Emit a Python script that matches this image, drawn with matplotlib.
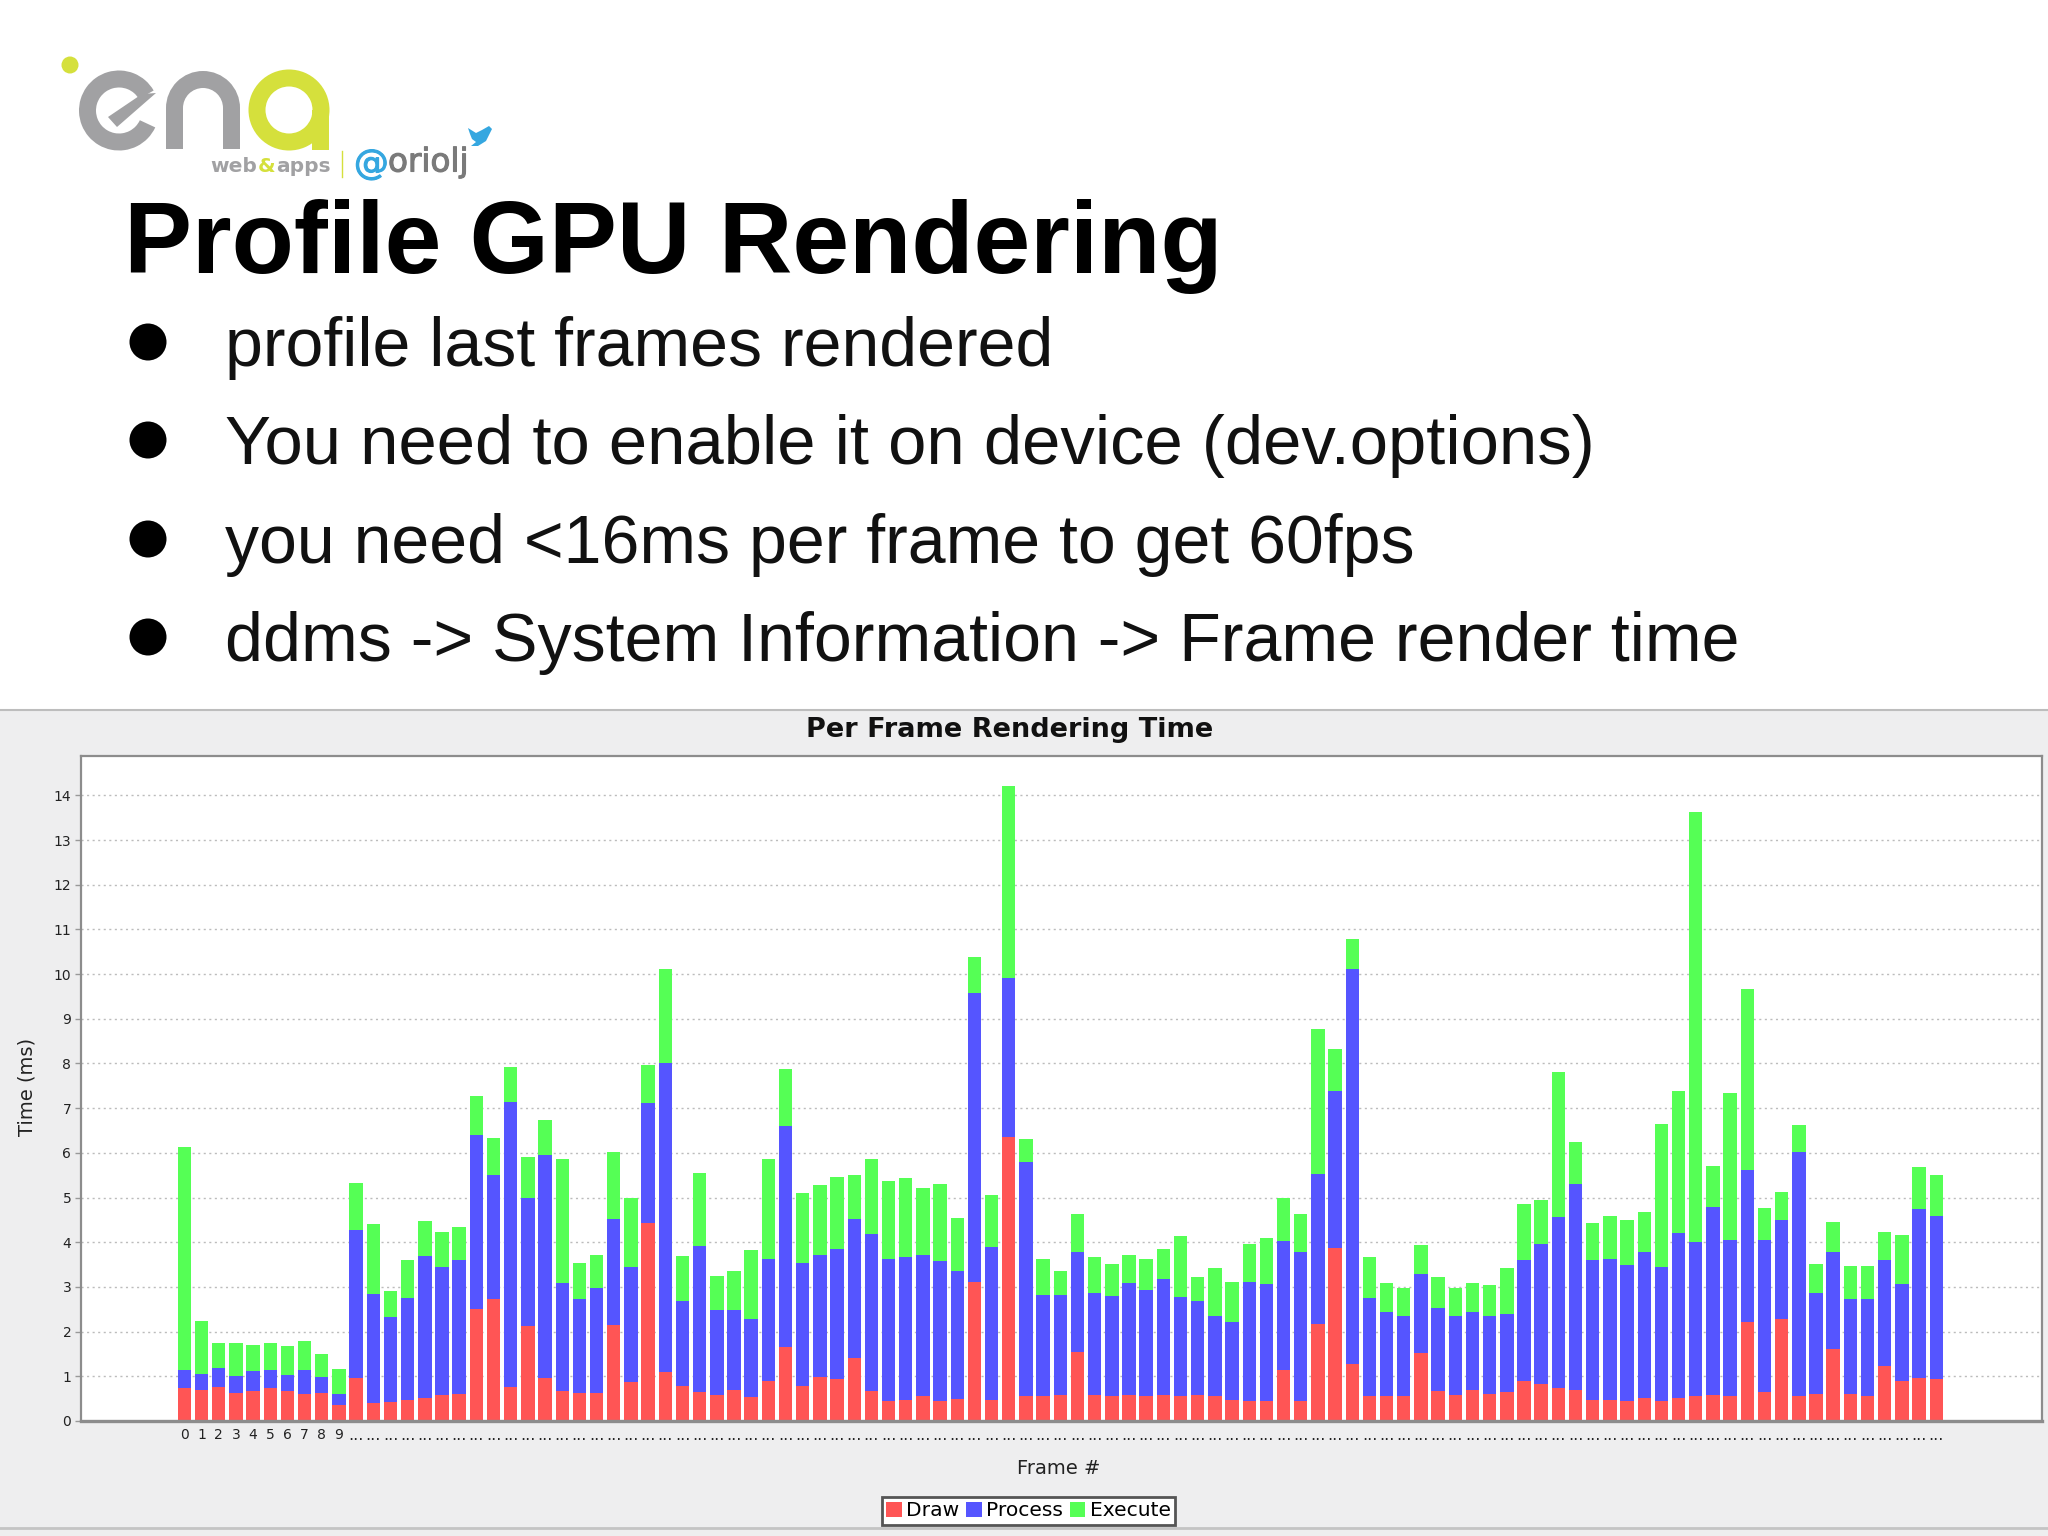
import matplotlib
matplotlib.use("Agg")
import matplotlib.pyplot as plt
import matplotlib.patheffects as pe
from matplotlib.patches import Wedge, Rectangle, Circle, Polygon, Patch

draw = [.73,.70,.76,.63,.68,.73,.68,.61,.63,.35,.96,.41,.43,.47,.52,.58,.61,2.51,2.73,.76,
        2.13,.96,.68,.63,.63,2.15,.88,4.44,1.09,.78,.64,.59,.69,.54,.89,1.65,.78,.98,.93,1.40,
        .67,.45,.48,.55,.45,.49,3.10,.48,6.35,.57,.57,.59,1.54,.59,.57,.59,.57,.59,.57,.59,
        .57,.48,.45,.45,1.13,.45,2.17,3.87,1.28,.57,.57,.57,1.52,.67,.58,.70,.60,.64,.89,.83,
        .73,.70,.48,.46,.45,.51,.45,.51,.55,.58,.55,2.22,.64,2.29,.57,.61,1.61,.60,.55,1.24,
        .89,.97,.95]
process = [.42,.36,.42,.38,.43,.42,.36,.54,.35,.26,3.32,2.43,1.90,2.28,3.17,2.87,3.00,3.88,2.77,6.38,
           2.86,4.99,2.40,2.10,2.35,2.37,2.57,2.68,6.91,1.90,3.27,1.90,1.80,1.75,2.74,4.96,2.75,2.74,2.91,3.11,
           3.51,3.17,3.20,3.17,3.14,2.86,6.47,3.42,3.57,5.23,2.26,2.24,2.25,2.27,2.23,2.50,2.37,2.58,2.20,2.10,
           1.77,1.73,2.67,2.61,2.90,3.34,3.35,3.51,8.84,2.19,1.86,1.77,1.77,1.85,1.76,1.73,1.74,1.76,2.71,3.13,
           3.83,4.61,3.12,3.16,3.05,3.28,3.00,3.70,3.45,4.21,3.50,3.40,3.41,2.20,5.44,2.25,2.18,2.14,2.17,2.36,
           2.17,3.77,3.63]
execute = [4.97,1.18,.56,.73,.59,.59,.64,.64,.51,.55,1.04,1.57,.58,.86,.79,.77,.72,.88,.83,.79,
           .91,.78,2.78,.81,.74,1.49,1.54,.85,2.11,1.01,1.65,.76,.86,1.53,2.24,1.27,1.57,1.56,1.63,.99,
           1.69,1.74,1.76,1.50,1.72,1.20,.81,1.16,4.29,.52,.79,.53,.84,.80,.71,.63,.68,.67,1.38,.54,
           1.08,.90,.85,1.03,.95,.84,3.26,.94,.66,.90,.65,.64,.65,.71,.63,.65,.71,1.02,1.26,.98,
           3.26,.93,.83,.96,.99,.89,3.20,3.17,9.63,.92,3.28,4.04,.72,.64,.61,.65,.67,.72,.74,.64,
           1.10,.95,.92]
series_names = ["Draw", "Process", "Execute"]
frame_labels = [str(i) if i < 10 else "..." for i in range(len(draw))]
y_ticks = list(range(15))
bullets = ["profile last frames rendered",
           "You need to enable it on device (dev.options)",
           "you need <16ms per frame to get 60fps",
           "ddms -> System Information -> Frame render time"]

W, H = 2048, 1536
fig = plt.figure(figsize=(W / 100, H / 100), dpi=100, facecolor="white")

# full-figure layer in pixel units for the slide itself
bg = fig.add_axes([0, 0, 1, 1], zorder=0)
bg.set_xlim(0, W)
bg.set_ylim(H, 0)
bg.axis("off")

PANEL = "#eeeeef"
bg.add_patch(Rectangle((0, 710), W, H - 710, fc=PANEL, ec="none"))
bg.plot([0, W], [710, 710], color="#bdbdbd", lw=1.5)
bg.plot([0, W], [1528, 1528], color="#c4c4c4", lw=2)

# logo
GREY, LIME, SKY = "#a1a1a3", "#d5e03c", "#35a7e0"
bg.add_patch(Circle((70, 65), 8.5, fc=LIME, ec="none"))
bg.add_patch(Wedge((119, 110.5), 40, 25, 330, width=17, fc=GREY, ec="none"))
bg.add_patch(Polygon([(108, 117), (142, 94), (156, 93), (117, 127)], fc=GREY, ec="none"))
bg.add_patch(Wedge((203, 108), 37, 180, 360, width=17, fc=GREY, ec="none"))
bg.add_patch(Rectangle((166, 108), 17, 41, fc=GREY, ec="none"))
bg.add_patch(Rectangle((223, 108), 17, 41, fc=GREY, ec="none"))
bg.add_patch(Wedge((289, 110), 40.5, 0, 360, width=17, fc=LIME, ec="none"))
bg.add_patch(Rectangle((312, 110), 17, 40, fc=LIME, ec="none"))
bg.plot([342, 342], [151, 177], color=LIME, lw=1)
bg.text(210, 167, "web", fontsize=14.5, fontweight="bold", color=GREY, va="center")
bg.text(258, 167, "&", fontsize=14.5, fontweight="bold", color=LIME, va="center")
bg.text(276, 167, "apps", fontsize=14.5, fontweight="bold", color=GREY, va="center")
bg.text(354, 164, "@", fontsize=25, color=SKY, va="center",
        path_effects=[pe.withStroke(linewidth=0.8, foreground=SKY)])
bg.text(388, 162, "oriolj", fontsize=23.5, color="#7a7a7a", va="center",
        path_effects=[pe.withStroke(linewidth=0.8, foreground="#7a7a7a")])
bg.add_patch(Polygon([(468, 128), (476, 133), (482, 130), (489, 126), (492, 129), (490, 133),
                      (486, 141), (478, 146), (471, 146), (476, 142), (472, 139), (470, 134)],
                     fc=SKY, ec="none"))

# slide text
SLIDE_FONT = "Liberation Sans"
bg.text(124, 273, "Profile GPU Rendering", family=SLIDE_FONT, fontsize=73.4,
        fontweight="bold", color="black", va="baseline")
for line, base, size in zip(bullets, [366, 464, 563, 661], [49, 49.55, 49, 49.1]):
    bg.text(225, base, line, family=SLIDE_FONT, fontsize=size, color="#111111", va="baseline")
    bg.add_patch(Circle((148, base - 24), 18.5, fc="black", ec="none"))

# chart
ax = fig.add_axes([81 / W, 1 - 1421 / H, (2042 - 81) / W, (1421 - 756) / H], zorder=1)
x = list(range(len(draw)))
COLORS = ["#ff5555", "#5555ff", "#55ff55"]
BAR_W = 0.78
ax.bar(x, draw, BAR_W, color=COLORS[0], label=series_names[0])
ax.bar(x, process, BAR_W, bottom=draw, color=COLORS[1], label=series_names[1])
ax.bar(x, execute, BAR_W, bottom=[a + b for a, b in zip(draw, process)],
       color=COLORS[2], label=series_names[2])
ax.set_xlim(-6.02, 108.16)
ax.set_ylim(0, 14.88)
ax.set_yticks(y_ticks)
ax.set_xticks(x)
ax.set_xticklabels(frame_labels, fontsize=10, color="#222222")
for lab, text in zip(ax.get_xticklabels(), frame_labels):
    if text == "...":
        lab.set_fontsize(11.5)
ax.tick_params(axis="x", length=0, pad=5)
ax.tick_params(axis="y", length=4, width=1, color="#999999", pad=3, labelsize=10, labelcolor="#222222")
ax.set_axisbelow(True)
ax.grid(axis="y", color="#bcbcbc", lw=1, linestyle=(0, (1.5, 2.5)))
for s in ["top", "left", "right"]:
    ax.spines[s].set_color("#8c8c8c")
    ax.spines[s].set_linewidth(1.6)
ax.spines["bottom"].set_color("#8c8c8c")
ax.spines["bottom"].set_linewidth(2.4)

bg.text(1010, 730, "Per Frame Rendering Time", fontsize=19.5, fontweight="bold",
        color="#111111", ha="center", va="center")
bg.text(27, 1087, "Time (ms)", fontsize=14, rotation=90, color="#222222", ha="center", va="center")
bg.text(1059, 1469, "Frame #", fontsize=14, color="#222222", ha="center", va="center")

leg = ax.legend(handles=[Patch(fc=c, label=n) for c, n in zip(COLORS, series_names)],
                ncol=3, loc="center", bbox_to_anchor=(1028.5 / W, 1 - 1511 / H),
                bbox_transform=fig.transFigure, fontsize=14.6, frameon=True, fancybox=False,
                framealpha=1, edgecolor="#555555", facecolor="white", handlelength=0.75,
                handleheight=0.75, handletextpad=0.22, columnspacing=0.35, borderpad=0.2,
                borderaxespad=0)
leg.get_frame().set_linewidth(2)

fig.savefig("out.png", dpi=100)
